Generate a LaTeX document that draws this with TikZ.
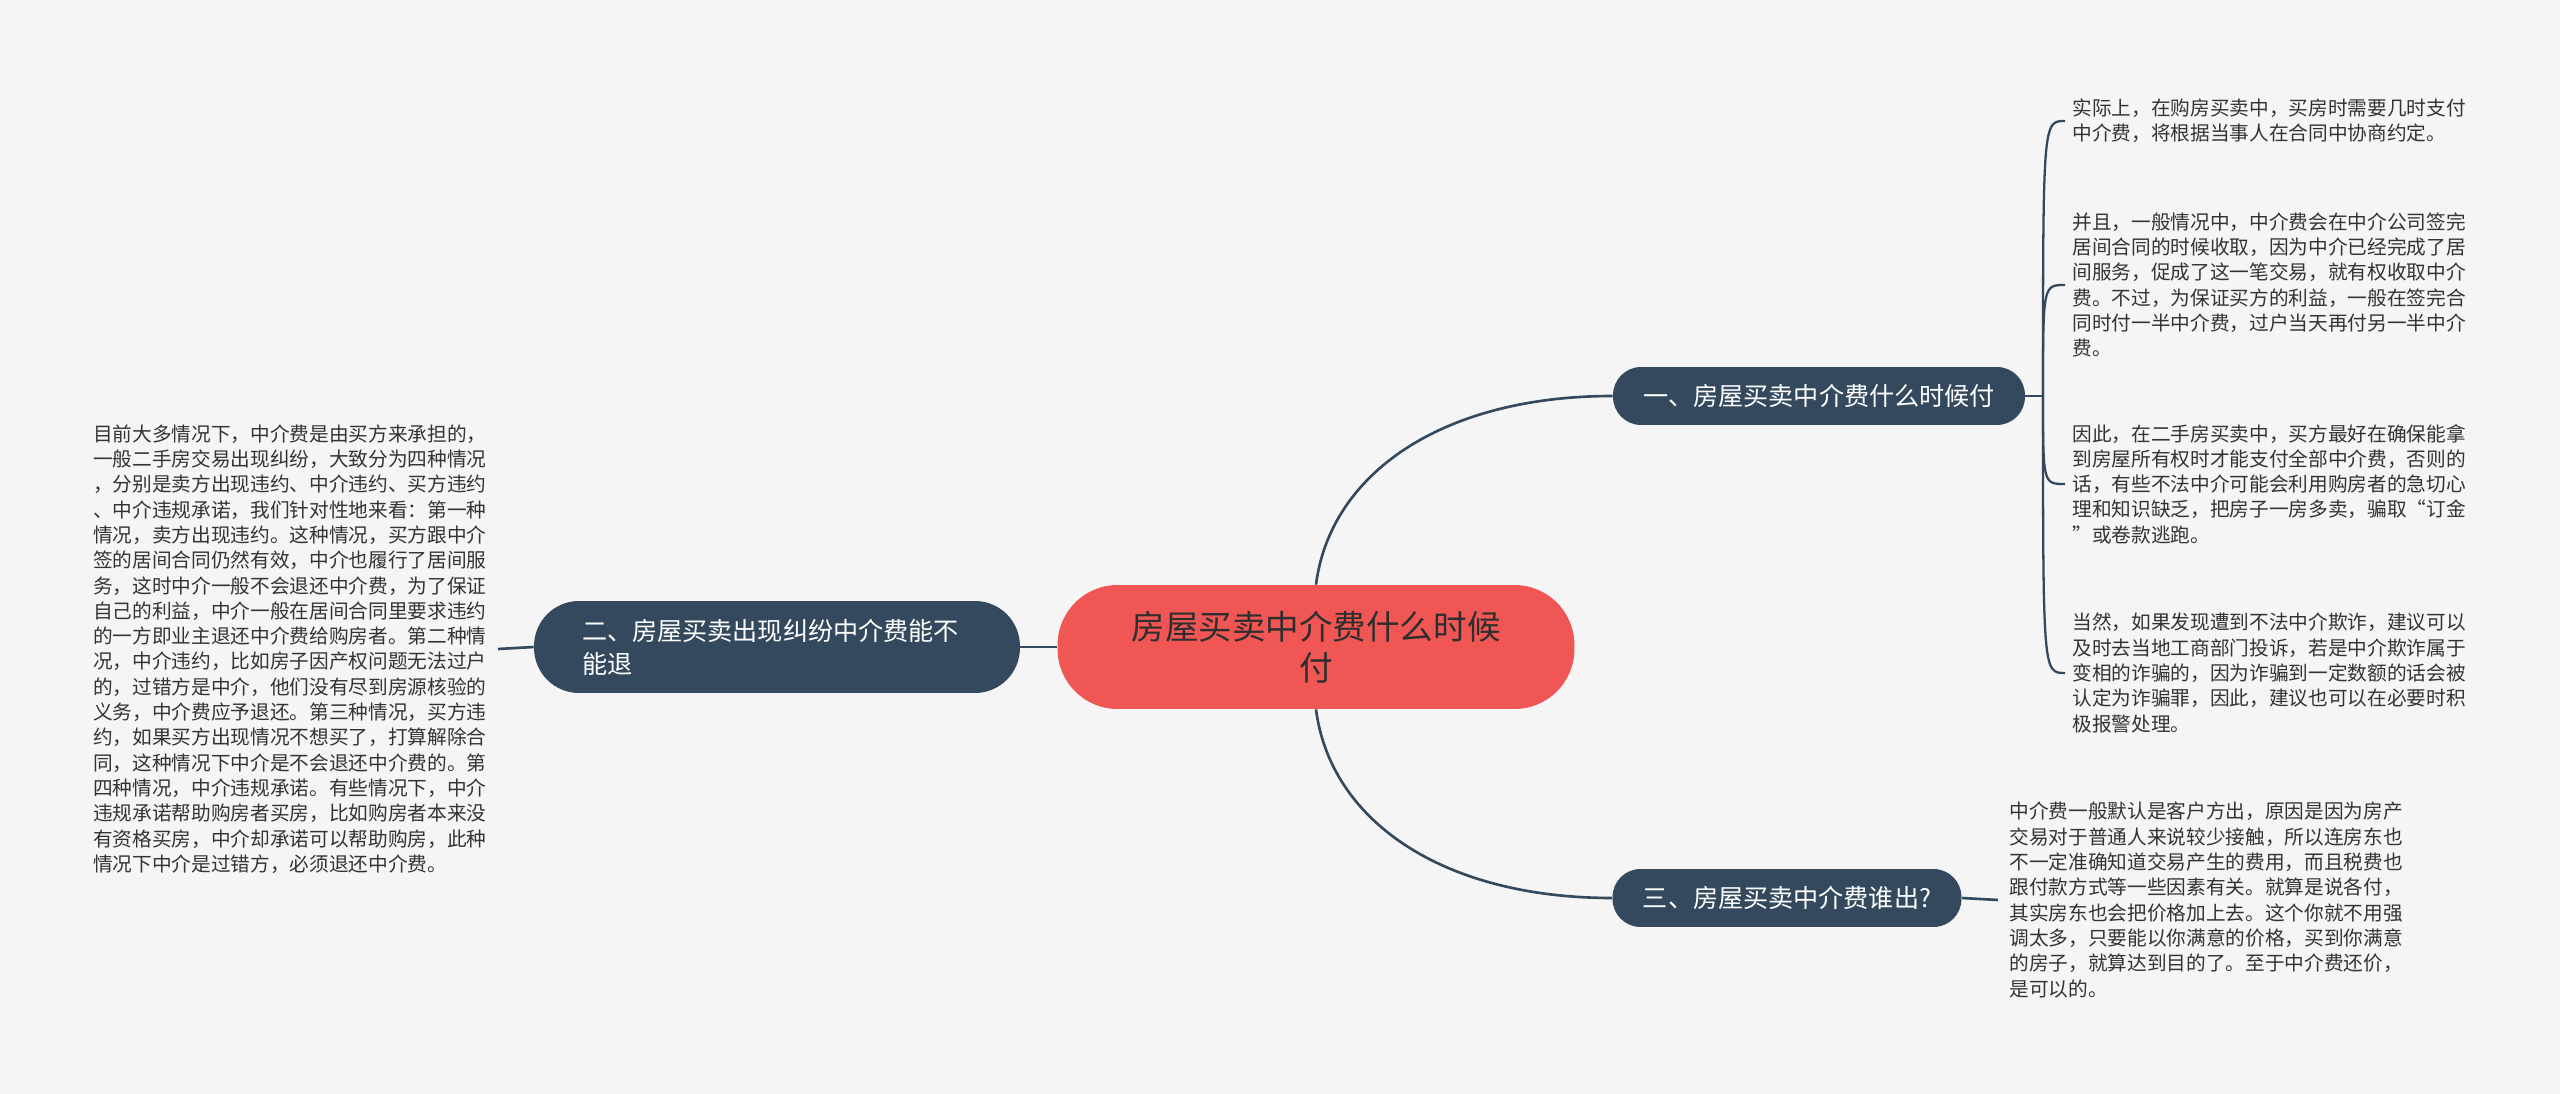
\documentclass[tikz,border=0pt]{standalone}
\usepackage{fontspec}
\newfontfamily\cjkfont{Noto Sans CJK SC}
\usetikzlibrary{positioning}
\definecolor{mapbg}{HTML}{F5F5F5}
\definecolor{mapnavy}{HTML}{34495E}
\definecolor{mapred}{HTML}{F05654}
\definecolor{maptext}{HTML}{333333}

\tikzset{
  rootnode/.style={fill=mapred, text=black!82, rounded corners=1.2cm, align=center,
    minimum width=10.34cm, minimum height=2.48cm, inner sep=0pt,
    font={\cjkfont\fontsize{19.1}{23.3}\selectfont}},
  topicnode/.style={fill=mapnavy, text=white, inner sep=0pt,
    font={\cjkfont\fontsize{14.3}{18.8}\selectfont}},
  leafnode/.style={text=maptext, align=left, inner ysep=0pt,
    font={\cjkfont\fontsize{11.2}{14.4}\selectfont}},
  link/.style={draw=mapnavy, line width=1.5pt},
  twig/.style={draw=mapnavy, line width=1.3pt},
}

\begin{document}
\begin{tikzpicture}[x=0.02cm, y=-0.02cm]
  \fill[mapbg] (0,0) rectangle (2560,1094);

  \node[rootnode] (root) at (1316,647) {房屋买卖中介费什么时候\\付};
  \node[topicnode, rounded corners=0.56cm, minimum width=8.24cm, minimum height=1.16cm]
    (when) at (1819,396) {一、房屋买卖中介费什么时候付};
  \node[topicnode, rounded corners=0.9cm, minimum width=9.72cm, minimum height=1.84cm,
    text width=7.8cm, align=left] (refund) at (777,647) {二、房屋买卖出现纠纷中介费能不\\能退};
  \node[topicnode, rounded corners=0.56cm, minimum width=6.98cm, minimum height=1.16cm]
    (who) at (1787,898) {三、房屋买卖中介费谁出?};

  \node[leafnode, inner xsep=0.22cm, anchor=east] (cases) at (498,649) {%
    目前大多情况下，中介费是由买方来承担的，\\
    一般二手房交易出现纠纷，大致分为四种情况\\
    ，分别是卖方出现违约、中介违约、买方违约\\
    、中介违规承诺，我们针对性地来看：第一种\\
    情况，卖方出现违约。这种情况，买方跟中介\\
    签的居间合同仍然有效，中介也履行了居间服\\
    务，这时中介一般不会退还中介费，为了保证\\
    自己的利益，中介一般在居间合同里要求违约\\
    的一方即业主退还中介费给购房者。第二种情\\
    况，中介违约，比如房子因产权问题无法过户\\
    的，过错方是中介，他们没有尽到房源核验的\\
    义务，中介费应予退还。第三种情况，买方违\\
    约，如果买方出现情况不想买了，打算解除合\\
    同，这种情况下中介是不会退还中介费的。第\\
    四种情况，中介违规承诺。有些情况下，中介\\
    违规承诺帮助购房者买房，比如购房者本来没\\
    有资格买房，中介却承诺可以帮助购房，此种\\
    情况下中介是过错方，必须退还中介费。};

  \node[leafnode, inner xsep=0.14cm, anchor=west] (agree) at (2065,121) {%
    实际上，在购房买卖中，买房时需要几时支付\\
    中介费，将根据当事人在合同中协商约定。};
  \node[leafnode, inner xsep=0.14cm, anchor=west] (half) at (2065,285) {%
    并且，一般情况中，中介费会在中介公司签完\\
    居间合同的时候收取，因为中介已经完成了居\\
    间服务，促成了这一笔交易，就有权收取中介\\
    费。不过，为保证买方的利益，一般在签完合\\
    同时付一半中介费，过户当天再付另一半中介\\
    费。};
  \node[leafnode, inner xsep=0.14cm, anchor=west] (deed) at (2065,484) {%
    因此，在二手房买卖中，买方最好在确保能拿\\
    到房屋所有权时才能支付全部中介费，否则的\\
    话，有些不法中介可能会利用购房者的急切心\\
    理和知识缺乏，把房子一房多卖，骗取“订金\\
    ”或卷款逃跑。};
  \node[leafnode, inner xsep=0.14cm, anchor=west] (fraud) at (2065,673) {%
    当然，如果发现遭到不法中介欺诈，建议可以\\
    及时去当地工商部门投诉，若是中介欺诈属于\\
    变相的诈骗的，因为诈骗到一定数额的话会被\\
    认定为诈骗罪，因此，建议也可以在必要时积\\
    极报警处理。};
  \node[leafnode, inner xsep=0.22cm, anchor=west] (payer) at (1998,900) {%
    中介费一般默认是客户方出，原因是因为房产\\
    交易对于普通人来说较少接触，所以连房东也\\
    不一定准确知道交易产生的费用，而且税费也\\
    跟付款方式等一些因素有关。就算是说各付，\\
    其实房东也会把价格加上去。这个你就不用强\\
    调太多，只要能以你满意的价格，买到你满意\\
    的房子，就算达到目的了。至于中介费还价，\\
    是可以的。};

  \draw[link] (root.north) .. controls (1330,475) and (1440,396) .. (when.west);
  \draw[link] (root.south) .. controls (1330,819) and (1440,898) .. (who.west);
  \draw[link] (root.west) -- (refund.east);
  \draw[link] (refund.west) -- (cases.east);
  \draw[link] (who.east) -- (payer.west);

  \coordinate (fork) at (2043,396);
  \draw[link] (when.east) -- (fork);
  \foreach \leaf in {agree,half,deed,fraud}
    \draw[twig] (fork) .. controls (fork |- \leaf.west) .. (\leaf.west);
\end{tikzpicture}
\end{document}
